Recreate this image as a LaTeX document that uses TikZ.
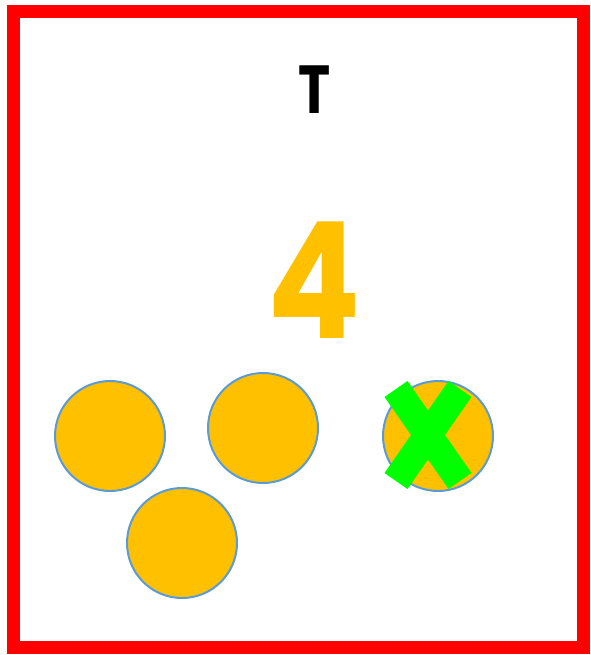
\documentclass[tikz,border=0pt]{standalone}
\usepackage{fontspec}
\usepackage{graphicx}
\newfontfamily\popfont{Poppins}
\definecolor{orangec}{HTML}{FFC000}
\definecolor{bluec}{HTML}{5B9BD5}
\definecolor{greenc}{HTML}{00FF00}
\begin{document}
\begin{tikzpicture}[x=1pt,y=-1pt,
  coin/.style={circle,fill=orangec,draw=bluec,line width=2pt,minimum size=110pt,inner sep=0pt},
  xbar/.style={draw=greenc,line width=28pt}]
\useasboundingbox (0,0) rectangle (590,655);
\draw[red,line width=13pt] (13.5,12) rectangle (583.5,647.5);
\node[inner sep=0pt,font=\popfont\bfseries\fontsize{68}{68}\selectfont] (t) at (314.5,90) {\scalebox{0.8}[1]{T}};
\node[inner sep=0pt,text=orangec,font=\popfont\bfseries\fontsize{162}{162}\selectfont] (four) at (314.5,280) {\scalebox{0.85}[1]{4}};
\node[coin] (c1) at (110,436) {};
\node[coin] (c2) at (263,428) {};
\node[coin] (c3) at (182,543) {};
\node[coin] (c4) at (438,436) {};
\coordinate (xa) at (396,389);
\coordinate (xb) at (460,481);
\coordinate (xc) at (460,389);
\coordinate (xd) at (396,481);
\draw[xbar] (xa) -- (xb);
\draw[xbar] (xc) -- (xd);
\end{tikzpicture}
\end{document}
